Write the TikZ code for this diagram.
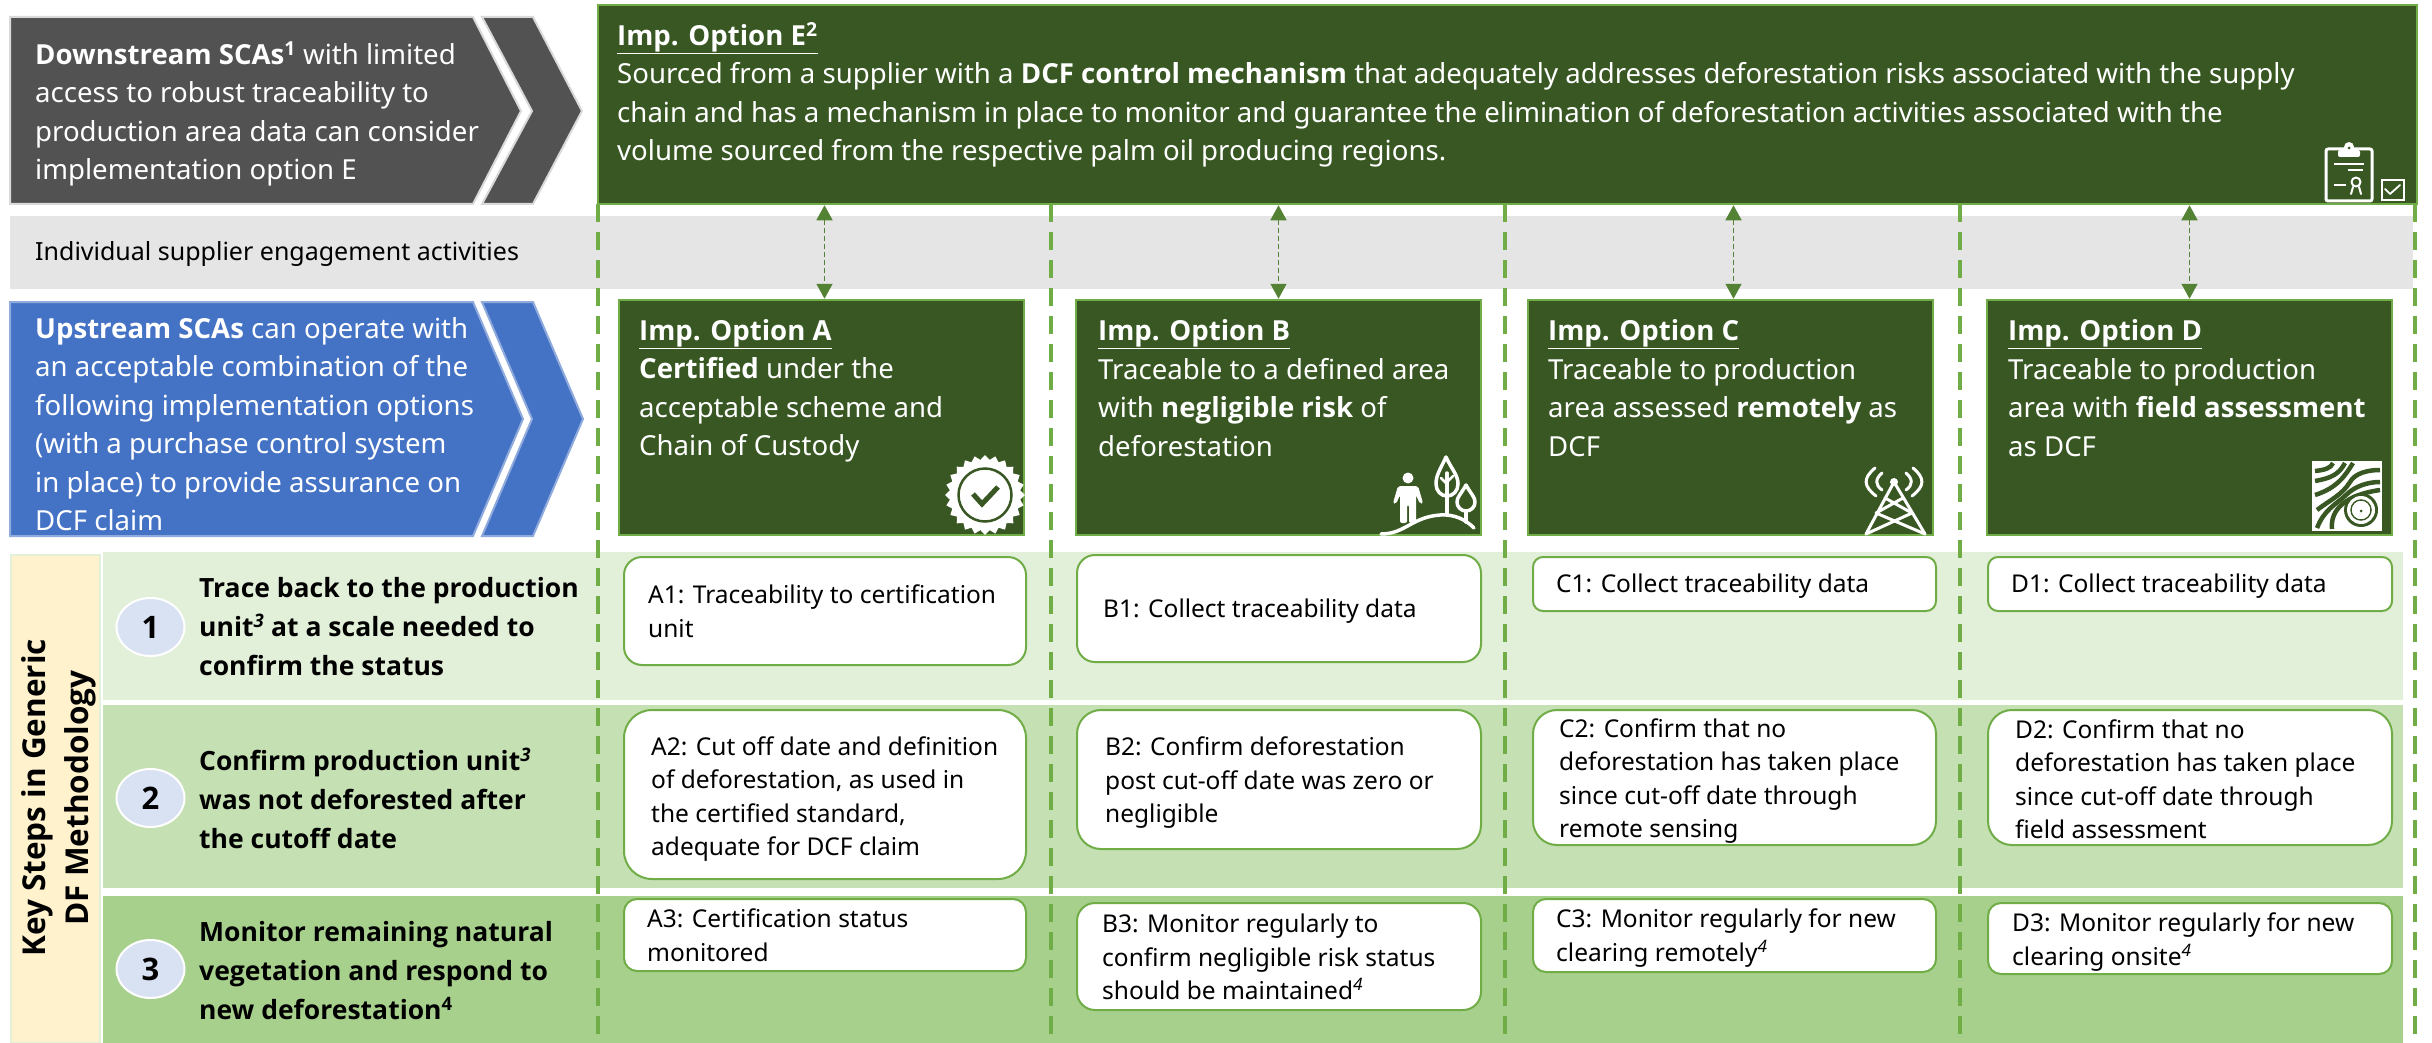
\documentclass[tikz,border=0pt]{standalone}
\usepackage{fontspec}
\setmainfont{Noto Sans}[BoldFont={Open Sans Bold}]
\usetikzlibrary{arrows.meta,shapes.geometric}
\definecolor{OptGreen}{RGB}{56,87,35}
\definecolor{EdgeGreen}{RGB}{112,173,71}
\definecolor{TipGreen}{RGB}{84,130,53}
\definecolor{RowA}{RGB}{226,239,217}
\definecolor{RowB}{RGB}{197,224,179}
\definecolor{RowC}{RGB}{168,208,141}
\definecolor{BandGrey}{RGB}{229,229,229}
\definecolor{SideDark}{RGB}{82,82,82}
\definecolor{SideBlue}{RGB}{68,114,196}
\definecolor{Cream}{RGB}{255,242,204}
\definecolor{StepBlue}{RGB}{217,226,243}
\tikzset{
  optbox/.style={rectangle, draw=EdgeGreen, fill=OptGreen, line width=2.5pt, inner sep=0pt},
  stepbox/.style={rectangle, draw=EdgeGreen, fill=white, line width=2pt, inner sep=0pt},
  rowband/.style={rectangle, inner sep=0pt, draw=none},
  bigtext/.style={anchor=west, align=left, inner sep=0pt, font=\fontsize{27.6}{38.5}\selectfont},
  optext/.style={bigtext, text=white},
  smalltext/.style={anchor=west, align=left, inner sep=0pt, font=\fontsize{24.5}{33.5}\selectfont},
  boldtext/.style={anchor=west, align=left, inner sep=0pt, font=\fontsize{26.5}{39}\selectfont\bfseries},
  stepdot/.style={ellipse, fill=StepBlue, draw=white, line width=2pt, minimum width=68pt, minimum height=58pt, inner sep=0pt, font=\fontsize{31}{31}\selectfont\bfseries},
  optline/.style={EdgeGreen, line width=3.5pt, dash pattern=on 18pt off 10pt},
  linkarrow/.style={TipGreen, line width=1.5pt, dash pattern=on 5pt off 3pt, {Triangle[length=15pt,width=16pt]}-{Triangle[length=15pt,width=16pt]}},
  icon/.style={white, line width=3.5pt, line cap=round, line join=round},
  darkicon/.style={OptGreen, line width=4.5pt, line cap=round, line join=round}
}
\newcommand{\opthead}[1]{\underline{\textbf{Imp. Option #1}}}
\newcommand{\noteital}[1]{\textsuperscript{\textit{#1}}}
\begin{document}
\begin{tikzpicture}[x=1pt,y=-1pt]
  \useasboundingbox (0,0) rectangle (2432,1043);

  % bands
  \node[rowband, fill=BandGrey, minimum width=2403pt, minimum height=73pt] (band) at (1211.5,252.5) {};
  \node[rowband, fill=RowA, minimum width=2300pt, minimum height=148pt] (row1) at (1253,626) {};
  \node[rowband, fill=RowB, minimum width=2300pt, minimum height=183pt] (row2) at (1253,796.5) {};
  \node[rowband, fill=RowC, minimum width=2300pt, minimum height=147pt] (row3) at (1253,969.5) {};
  \node[rowband, fill=Cream, draw=RowA, line width=1.5pt, minimum width=89pt, minimum height=488pt] (keycol) at (55.5,799) {};

  % columns
  \foreach \xcol in {598,1051,1505,1960,2415}
    \draw[optline] (\xcol,204) -- (\xcol,1043);

  % chevrons
  \draw[fill=SideDark, draw=black!15, line width=2pt] (10,17) -- (473,17) -- (521,111) -- (473,204) -- (10,204) -- cycle;
  \draw[fill=SideDark, draw=black!15, line width=2pt] (482,17) -- (533,17) -- (582,111) -- (533,204) -- (482,204) -- (532,111) -- cycle;
  \draw[fill=SideBlue, draw=SideBlue!60!white, line width=2pt] (10,302) -- (473,302) -- (523,419) -- (473,536) -- (10,536) -- cycle;
  \draw[fill=SideBlue, draw=SideBlue!60!white, line width=2pt] (482,302) -- (533,302) -- (583,419) -- (533,536) -- (482,536) -- (532,419) -- cycle;

  \node[optext] (downtext) at (35,114) {\textbf{Downstream SCAs\textsuperscript{1}} with limited\\access to robust traceability to\\production area data can consider\\implementation option E};
  \node[smalltext, font=\fontsize{25}{33}\selectfont] (bandtext) at (35,254) {Individual supplier engagement activities};
  \node[optext] (uptext) at (35,424) {\textbf{Upstream SCAs} can operate with\\an acceptable combination of the\\following implementation options\\(with a purchase control system\\in place) to provide assurance on\\DCF claim};

  % option boxes
  \node[optbox, minimum width=1819pt, minimum height=199pt] (optE) at (1507.5,104.5) {};
  \node[optbox, minimum width=405pt, minimum height=235pt] (optA) at (821.5,417.5) {};
  \node[optbox, minimum width=405pt, minimum height=235pt] (optB) at (1278.5,417.5) {};
  \node[optbox, minimum width=405pt, minimum height=235pt] (optC) at (1730.5,417.5) {};
  \node[optbox, minimum width=405pt, minimum height=235pt] (optD) at (2189.5,417.5) {};

  \node[optext] (optEtext) at (617,95) {\underline{\textbf{Imp. Option E\textsuperscript{2}}}\\Sourced from a supplier with a \textbf{DCF control mechanism} that adequately addresses deforestation risks associated with the supply\\chain and has a mechanism in place to monitor and guarantee the elimination of deforestation activities associated with the\\volume sourced from the respective palm oil producing regions.};
  \node[optext] (optAtext) at (639,391) {\opthead{A}\\\textbf{Certified} under the\\acceptable scheme and\\Chain of Custody};
  \node[optext] (optBtext) at (1098,388) {\opthead{B}\\Traceable to a defined area\\with \textbf{negligible risk} of\\deforestation};
  \node[optext] (optCtext) at (1548,388) {\opthead{C}\\Traceable to production\\area assessed \textbf{remotely} as\\DCF};
  \node[optext] (optDtext) at (2008,388) {\opthead{D}\\Traceable to production\\area with \textbf{field assessment}\\as DCF};

  \draw[linkarrow] ([xshift=3pt]optA.north |- optE.south) -- ([xshift=3pt]optA.north);
  \draw[linkarrow] (optB.north |- optE.south) -- (optB.north);
  \draw[linkarrow] ([xshift=3pt]optC.north |- optE.south) -- ([xshift=3pt]optC.north);
  \draw[linkarrow] (optD.north |- optE.south) -- (optD.north);

  % key steps
  \node[rotate=90, align=center, inner sep=0pt, font=\fontsize{31.5}{43}\selectfont\bfseries] (keytext) at (59,798) {Key Steps in Generic\\DF Methodology};
  \node[stepdot] (dot1) at (150.5,627) {1};
  \node[stepdot] (dot2) at (150.5,798) {2};
  \node[stepdot] (dot3) at (150.5,969) {3};
  \node[boldtext] (step1) at (199,627) {Trace back to the production\\unit\noteital{3} at a scale needed to\\confirm the status};
  \node[boldtext] (step2) at (199,798) {Confirm production unit\noteital{3}\\was not deforested after\\the cutoff date};
  \node[boldtext] (step3) at (199,971) {Monitor remaining natural\\vegetation and respond to\\new deforestation\textsuperscript{4}};

  % step boxes
  \node[stepbox, rounded corners=18pt, minimum width=402pt, minimum height=108pt] (a1) at (825,611) {};
  \node[stepbox, rounded corners=28pt, minimum width=402pt, minimum height=169pt] (a2) at (825,794.5) {};
  \node[stepbox, rounded corners=13pt, minimum width=402pt, minimum height=72pt] (a3) at (825,935) {};
  \node[stepbox, rounded corners=18pt, minimum width=404pt, minimum height=107pt] (b1) at (1279,608.5) {};
  \node[stepbox, rounded corners=24pt, minimum width=404pt, minimum height=139pt] (b2) at (1279,779.5) {};
  \node[stepbox, rounded corners=18pt, minimum width=404pt, minimum height=107pt] (b3) at (1279,956.5) {};
  \node[stepbox, rounded corners=10pt, minimum width=403pt, minimum height=54pt] (c1) at (1734.5,584) {};
  \node[stepbox, rounded corners=24pt, minimum width=403pt, minimum height=135pt] (c2) at (1734.5,777.5) {};
  \node[stepbox, rounded corners=13pt, minimum width=403pt, minimum height=73pt] (c3) at (1734.5,935.5) {};
  \node[stepbox, rounded corners=10pt, minimum width=404pt, minimum height=54pt] (d1) at (2190,584) {};
  \node[stepbox, rounded corners=24pt, minimum width=404pt, minimum height=135pt] (d2) at (2190,777.5) {};
  \node[stepbox, rounded corners=13pt, minimum width=404pt, minimum height=71pt] (d3) at (2190,938.5) {};

  \node[smalltext] (a1text) at (648,611) {A1: Traceability to certification\\unit};
  \node[smalltext] (a2text) at (651,799) {A2: Cut off date and definition\\of deforestation, as used in\\the certified standard,\\adequate for DCF claim};
  \node[smalltext] (a3text) at (647,935) {A3: Certification status\\monitored};
  \node[smalltext] (b1text) at (1103,611) {B1: Collect traceability data};
  \node[smalltext] (b2text) at (1105,783) {B2: Confirm deforestation\\post cut-off date was zero or\\negligible};
  \node[smalltext] (b3text) at (1102,957) {B3: Monitor regularly to\\confirm negligible risk status\\should be maintained\noteital{4}};
  \node[smalltext] (c1text) at (1556,586) {C1: Collect traceability data};
  \node[smalltext] (c2text) at (1559,781) {C2: Confirm that no\\deforestation has taken place\\since cut-off date through\\remote sensing};
  \node[smalltext] (c3text) at (1556,938) {C3: Monitor regularly for new\\clearing remotely\noteital{4}};
  \node[smalltext] (d1text) at (2011,586) {D1: Collect traceability data};
  \node[smalltext] (d2text) at (2015,779) {D2: Confirm that no\\deforestation has taken place\\since cut-off date through\\field assessment};
  \node[smalltext] (d3text) at (2012,942) {D3: Monitor regularly for new\\clearing onsite\noteital{4}};

  % icon E
  \draw[icon, line width=3pt, rounded corners=2pt] (2326,149) rectangle (2372,201);
  \fill[white, rounded corners=2pt] (2338,150) rectangle (2360,157);
  \fill[white] (2349,147) circle (5pt);
  \fill[OptGreen] (2349,148) circle (1.5pt);
  \draw[icon, line width=2.5pt, line cap=butt] (2334,164) -- (2364,164);
  \draw[icon, line width=2.5pt, line cap=butt] (2348,170) -- (2363,170);
  \draw[icon, line width=2.5pt, line cap=butt] (2334,185) -- (2346,185);
  \draw[icon, line width=2pt] (2356,182) circle (4.5pt);
  \draw[icon, line width=2pt] (2353,187) -- (2351,194);
  \draw[icon, line width=2pt] (2359,187) -- (2361,194);
  \draw[white, line width=1.5pt] (2382,180) rectangle (2404,200);
  \draw[icon, line width=1.8pt] (2385,189) -- (2390,194) -- (2400,185);

  % icon A
  \node[star, star points=24, star point ratio=1.13, fill=white, minimum size=80pt, inner sep=0pt] (seal) at (985,495) {};
  \node[circle, draw=OptGreen, line width=2.5pt, minimum size=53pt, inner sep=0pt] (sealring) at (985,495) {};
  \draw[darkicon, line width=5pt, line cap=butt, line join=miter] (973,494) -- (982,504) -- (998,487);

  % icon B
  \fill[white] (1408,478) circle (5.5pt);
  \fill[white, rounded corners=2pt] (1398,486) -- (1418,486) -- (1423,503) -- (1420,504) -- (1416,495) -- (1416,523) -- (1409,523) -- (1409,505) -- (1407,505) -- (1407,523) -- (1400,523) -- (1400,495) -- (1396,504) -- (1393,503) -- cycle;
  \draw[icon] (1381,534) .. controls (1405,534) and (1412,517) .. (1440,515) .. controls (1455,514) and (1466,520) .. (1474,528);
  \draw[icon] (1446,457) .. controls (1440,470) and (1436,475) .. (1436,484) .. controls (1436,491) and (1441,496) .. (1447,496) .. controls (1453,496) and (1458,491) .. (1458,484) .. controls (1458,475) and (1452,470) .. (1446,457) -- cycle;
  \draw[icon] (1447,473) -- (1447,515);
  \draw[icon, line width=2.5pt] (1447,484) -- (1441,478);
  \draw[icon, line width=2.5pt] (1447,482) -- (1453,476);
  \draw[icon] (1466,485) .. controls (1461,494) and (1457,497) .. (1457,502) .. controls (1457,507) and (1461,511) .. (1466,511) .. controls (1471,511) and (1475,507) .. (1475,502) .. controls (1475,497) and (1471,494) .. (1466,485) -- cycle;
  \draw[icon] (1466,511) -- (1466,522);

  % icon C
  \fill[white] (1894,482) circle (4pt);
  \draw[icon, line width=3pt] (1866,534) -- (1894,482) -- (1925,534);
  \draw[icon, line width=3pt] (1885,498) -- (1912,513) (1903,498) -- (1876,513) (1876,513) -- (1925,534) (1912,513) -- (1866,534);
  \draw[icon, line width=3pt] (1875,468) .. controls (1863,478) and (1863,486) .. (1876,496);
  \draw[icon, line width=3pt] (1882,473) .. controls (1875,479) and (1875,485) .. (1882,490);
  \draw[icon, line width=3pt] (1913,468) .. controls (1925,478) and (1925,486) .. (1912,496);
  \draw[icon, line width=3pt] (1906,473) .. controls (1913,479) and (1913,485) .. (1906,490);

  % icon D
  \fill[white] (2312,461) rectangle (2382,531);
  \draw[darkicon, line cap=butt] (2315,471) .. controls (2325,470) and (2331,468) .. (2333,463);
  \draw[darkicon, line cap=butt] (2315,481) .. controls (2332,478) and (2339,474) .. (2345,463);
  \draw[darkicon, line cap=butt] (2315,495) .. controls (2337,488) and (2345,476) .. (2353,463);
  \draw[darkicon, line cap=butt] (2317,510) .. controls (2330,500) and (2342,495) .. (2350,482) .. controls (2355,473) and (2368,470) .. (2380,470);
  \draw[darkicon, line cap=butt] (2317,528) .. controls (2324,510) and (2335,505) .. (2346,495) .. controls (2355,486) and (2368,482) .. (2380,482);
  \draw[darkicon, line cap=butt] (2332,529) .. controls (2330,510) and (2345,495) .. (2380,490);
  \fill[OptGreen] (2361,510) circle (17pt);
  \fill[white] (2361,510) circle (14pt);
  \draw[OptGreen, line width=1.5pt] (2361,510) circle (10pt);
  \fill[white] (2361,510) circle (9pt);
  \fill[OptGreen] (2361,511) circle (1.5pt);
\end{tikzpicture}
\end{document}
